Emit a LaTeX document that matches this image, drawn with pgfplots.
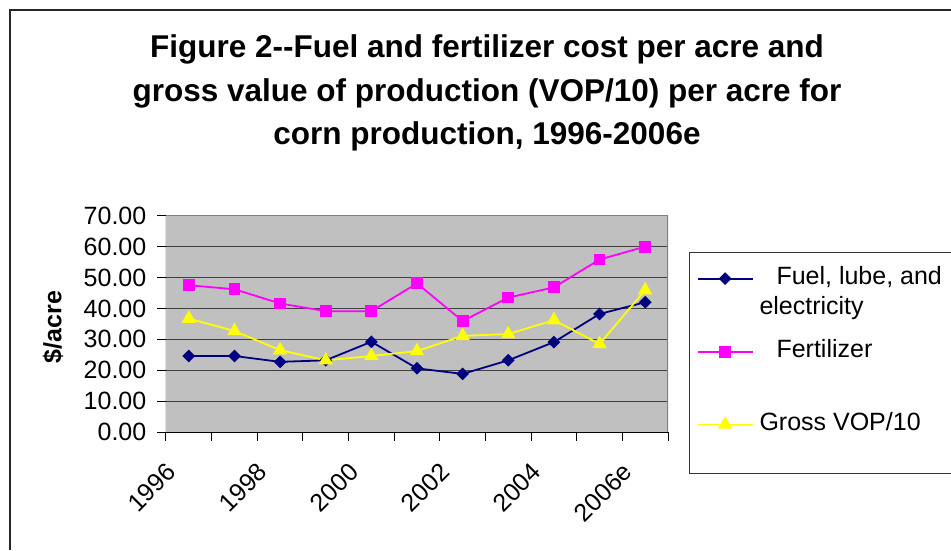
\documentclass[border=0pt]{standalone}
\usepackage{graphicx}
\usepackage{pgfplots}
\pgfplotsset{compat=1.18}
\usepackage{fontspec}
\setmainfont{Liberation Sans}
\definecolor{navyc}{RGB}{0,0,128}
\definecolor{magc}{RGB}{255,0,255}
\definecolor{yelc}{RGB}{255,255,0}
\definecolor{plotbg}{RGB}{192,192,192}
\newcommand{\rl}[1]{\rotatebox{45}{#1}}
\begin{document}
\begin{tikzpicture}[x=1pt,y=1pt]
\useasboundingbox (0,0) rectangle (951,550);
\fill[white] (0,0) rectangle (951,550);
\draw[line width=1.2pt, black!85] (10,0) -- (10,540) -- (951,540);
\node[font=\bfseries\fontsize{31.5}{43.5}\selectfont, align=center] at (487,457) {Figure 2-{}-Fuel and fertilizer cost per acre and\\gross value of production (VOP/10) per acre for\\corn production, 1996-2006e};
\draw[line width=1pt, black!80] (951,298) -- (689,298) -- (689,77) -- (951,77);
\begin{axis}[
  at={(166pt,118pt)}, anchor=south west, scale only axis,
  width=502pt, height=216.3pt,
  xmin=-0.5, xmax=10.5, ymin=0, ymax=70,
  axis line style={draw=none},
  axis background/.style={fill=plotbg},
  ymajorgrids, grid style={black!75, line width=1pt},
  tick align=outside, major tick length=8.5pt,
  xtick pos=bottom, ytick pos=left,
  tick style={black, line width=1pt},
  xtick={-0.5,0.5,...,10.5},
  xticklabels={\rl{1996},,\rl{1998},,\rl{2000},,\rl{2002},,\rl{2004},,\rl{2006e},},
  xticklabel style={inner sep=0pt, anchor=north east, xshift=11.8pt, yshift=-21pt},
  ytick={0,10,...,70},
  yticklabels={0.00,10.00,20.00,30.00,40.00,50.00,60.00,70.00},
  yticklabel style={inner sep=0pt, anchor=east, xshift=-11pt},
  ticklabel style={font=\fontsize{25}{30}\selectfont},
  ylabel={\textbf{\$/acre}},
  ylabel style={font=\bfseries\fontsize{25}{30}\selectfont, at={(axis description cs:-0.2251,0.485)}, anchor=center, rotate=0},
  legend style={at={(axis description cs:1.0568,0.7656)}, anchor=north west,
    draw=none, fill=none, inner sep=0pt, column sep=6pt, row sep=53.3pt,
    font=\fontsize{25}{30}\selectfont,
    cells={anchor=base west}, nodes={inner sep=0pt}},
  legend image code/.code={\draw[mark repeat=2,mark phase=2,#1] plot coordinates {(0pt,6pt) (27.5pt,6pt) (55pt,6pt)};},
]
\addplot[navyc, line width=1.8pt, mark=square*, mark size=3.6pt, mark options={rotate=45, solid, fill=navyc}]
  coordinates {(0,24.6) (1,24.6) (2,22.7) (3,23.2) (4,29.2) (5,20.6) (6,18.8) (7,23.2) (8,29.1) (9,38.2) (10,42.0)};
\addlegendentry{\parbox[t]{185pt}{\hspace*{17pt}Fuel, lube, and\\electricity}}
\addplot[magc, line width=1.8pt, mark=square*, mark size=5pt, mark options={solid, fill=magc}]
  coordinates {(0,47.5) (1,46.2) (2,41.6) (3,39.1) (4,39.1) (5,48.1) (6,35.9) (7,43.5) (8,46.8) (9,55.8) (10,60.0)};
\addlegendentry{\hspace*{17pt}Fertilizer}
\addplot[yelc, line width=1.8pt, mark=triangle*, mark size=6.5pt, mark options={solid, fill=yelc}]
  coordinates {(0,36.7) (1,32.7) (2,26.5) (3,23.2) (4,24.6) (5,26.2) (6,31.1) (7,31.7) (8,36.2) (9,28.5) (10,45.9)};
\addlegendentry{Gross VOP/10}
\draw[black!50, line width=1.3pt] (rel axis cs:0,1) -- (rel axis cs:1,1) -- (rel axis cs:1,0);
\draw[black, line width=1pt] (rel axis cs:0,1) -- (rel axis cs:0,0) -- (rel axis cs:1,0);
\end{axis}
\end{tikzpicture}
\end{document}
